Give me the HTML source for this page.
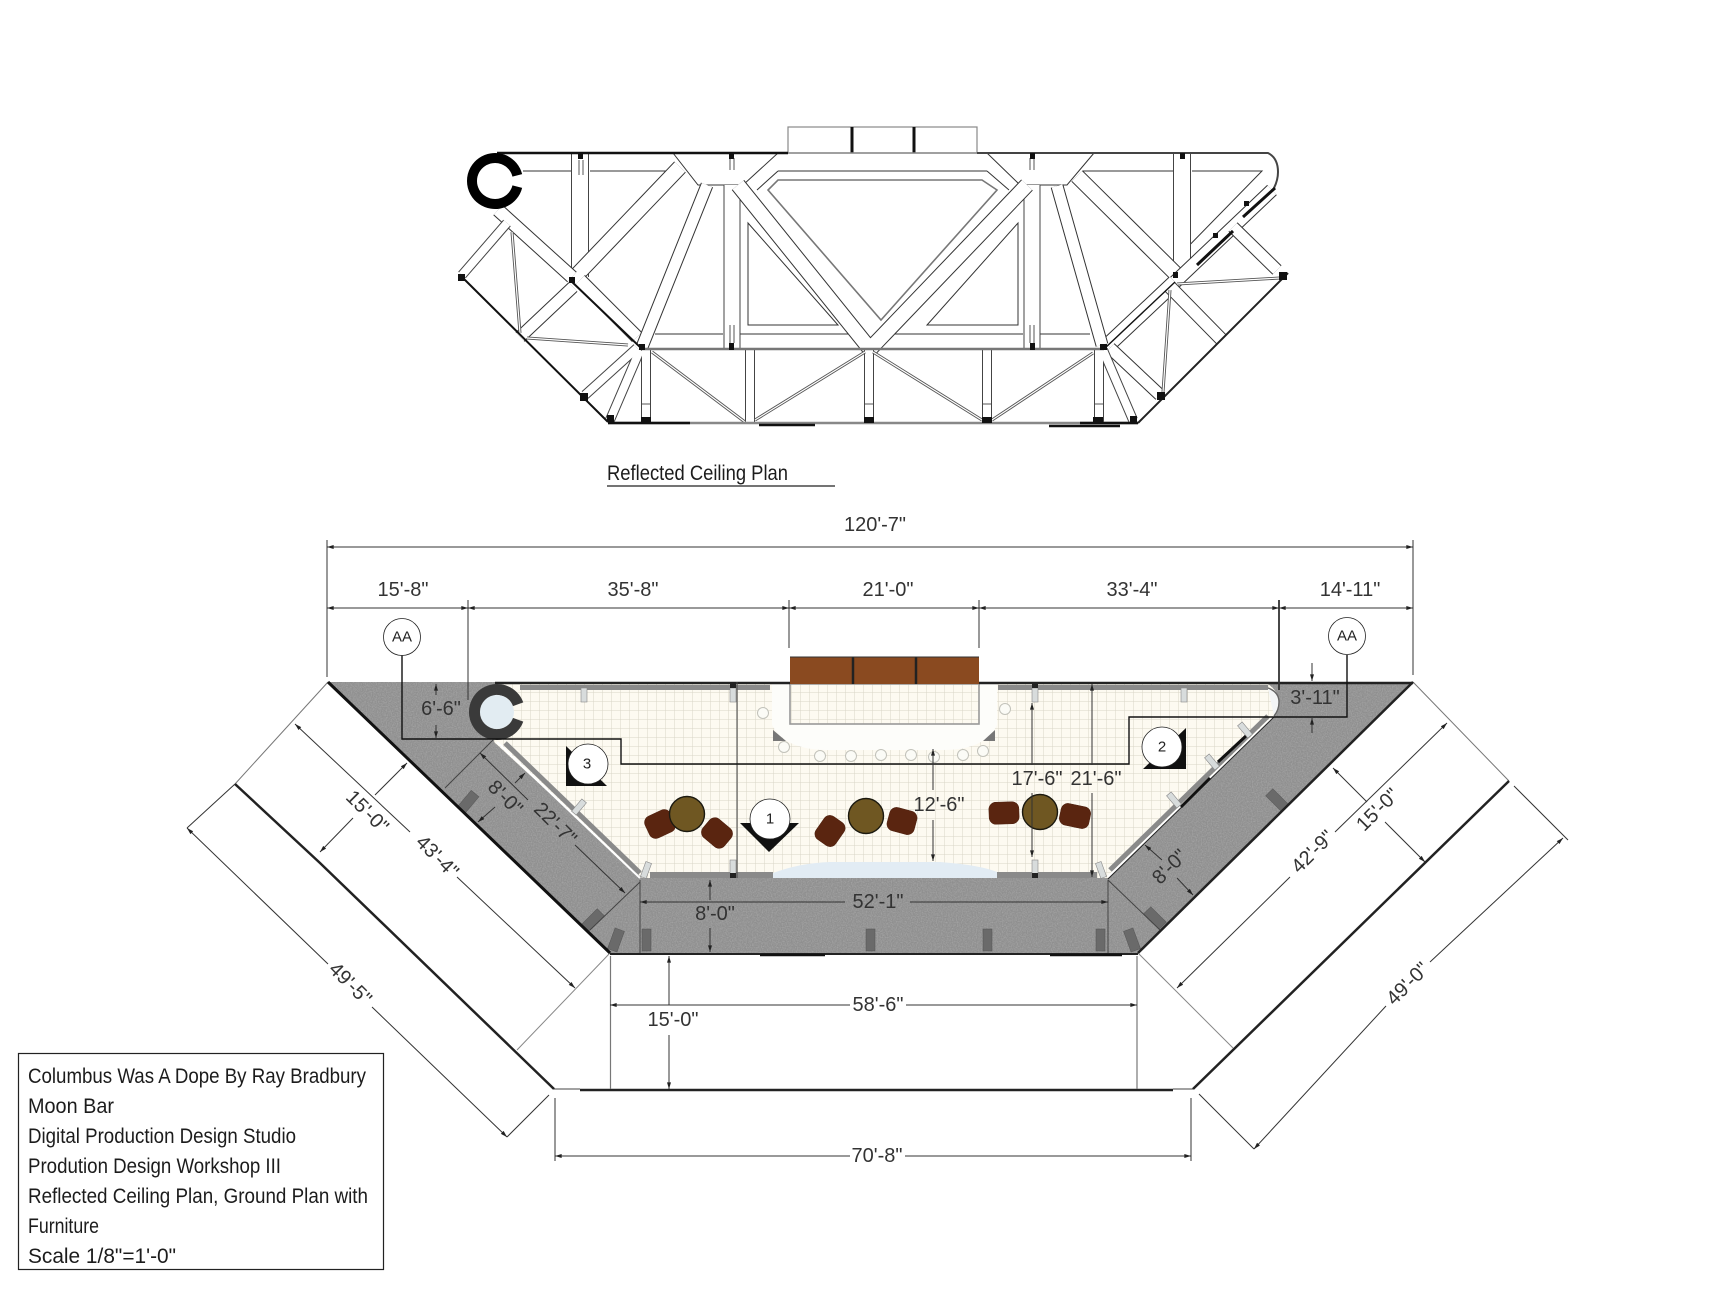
<!DOCTYPE html>
<html><head><meta charset="utf-8"><title>Moon Bar</title>
<style>
html,body{margin:0;padding:0;background:#fff}
svg{display:block}
.l{font:20px "Liberation Sans",sans-serif;fill:#333;text-anchor:middle;dominant-baseline:central}
.f{font:21px "Liberation Sans",sans-serif;fill:#1c1c1c}
.n{font:15px "Liberation Sans",sans-serif;fill:#222;text-anchor:middle;dominant-baseline:central}
.d{fill:none;stroke:#333;stroke-width:1}
.ds{marker-start:url(#a)}.de{marker-end:url(#a)}
.k{fill:#111}
.h{fill:none;stroke:#333;stroke-width:1}
</style></head><body>
<svg width="1728" height="1296" viewBox="0 0 1728 1296" xmlns="http://www.w3.org/2000/svg">
<defs>
<marker id="a" viewBox="0 0 10 6" refX="10" refY="3" markerUnits="userSpaceOnUse" markerWidth="8" markerHeight="4" orient="auto-start-reverse"><path d="M0 0L10 3L0 6Z" fill="#222"/></marker>
<pattern id="g" width="9" height="9" patternUnits="userSpaceOnUse"><rect width="9" height="9" fill="#fdfaf1"/><path d="M9 0V9M0 9H9" stroke="#d9d5c8" stroke-width="1"/></pattern>
<filter id="nz" x="0" y="0" width="100%" height="100%"><feTurbulence type="fractalNoise" baseFrequency=".8" numOctaves="2" seed="3"/><feColorMatrix values="0 0 0 0 .95 0 0 0 0 .95 0 0 0 0 .95 .8 0 0 0 -.28"/><feComposite in2="SourceGraphic" operator="in"/></filter>
<path id="w18" d="M580 153V277M1182 153V262"/>
<path id="w17" d="M732 185V349M1032 185V349"/>
<path id="w16" d="M572 280L680 167M738 185L870 349M1027 185L870 349M1077 176L1175 273M1108 345L1175 282"/>
<path id="w14" d="M498 210L572 277M580 280L637 337M1170 287L1222 340M1175 282L1272 190"/>
<path id="w13" d="M642 347L707 185M1057 186L1102 345M520 337L573 287M1233 227L1277 270M1110 348L1160 395"/>
<path id="w10" d="M646 349V423M750 349V423M869 349V423M987 349V423M1099 349V423M507 223L462 275M637 348L585 395M640 350L610 420M1103 350L1133 420"/>
<path id="w3" d="M652 352L745 422M755 420L865 352M873 352L982 420M992 420L1093 353M512 232L520 333M527 338L628 345M1170 290L1163 392M1177 284L1280 278"/>
</defs>
<rect width="1728" height="1296" fill="#fff"/>

<!-- Reflected ceiling plan -->
<g class="h">
<path d="M523 171H572M590 171H667M778 171H987M1083 171H1173M1192 171H1262L1175 260"/>
<path d="M655 334H723M740 334H860M880 334H1023M1040 334H1090"/>
<path d="M757 190L778 171M987 171L1009 190M748 223V325H838ZM1018 223V325H927Z"/>
<path d="M673 153L698 185H743L778 153M987 153L1020 185H1067L1094 153"/>
<path d="M778 180H982L997 190L881 320L768 190Z" stroke="#777" stroke-width="1.6"/>
</g>
<g fill="none">
<use href="#w18" stroke="#444" stroke-width="18"/><use href="#w18" stroke="#fff" stroke-width="16"/>
<use href="#w17" stroke="#444" stroke-width="17"/><use href="#w17" stroke="#fff" stroke-width="15"/>
<use href="#w16" stroke="#333" stroke-width="16"/><use href="#w16" stroke="#fff" stroke-width="14"/>
<use href="#w14" stroke="#333" stroke-width="14"/><use href="#w14" stroke="#fff" stroke-width="12"/>
<use href="#w13" stroke="#333" stroke-width="13"/><use href="#w13" stroke="#fff" stroke-width="11"/>
<use href="#w10" stroke="#444" stroke-width="10"/><use href="#w10" stroke="#fff" stroke-width="8"/>
<use href="#w3" stroke="#555" stroke-width="3"/><use href="#w3" stroke="#fff" stroke-width="1.2"/>
</g>
<path d="M579 160V175M583 160V175M730 158V170M734 158V170M1030 158V170M1034 158V170M730 325V343M734 325V343M1030 325V343M1034 325V343M642 404H650M865 404H873M1095 404H1103M983 404H991" stroke="#555" stroke-width="1" fill="none"/>
<rect x="788" y="127" width="189" height="26" fill="#fff" stroke="#888" stroke-width="1.2"/>
<path d="M852 127V153M914 127V153" stroke="#111" stroke-width="3"/>
<g fill="none">
<path d="M497 153H788" stroke="#111" stroke-width="2.5"/>
<path d="M788 153H977" stroke="#888" stroke-width="1.5"/>
<path d="M977 153H1268Q1278 158 1278 172Q1278 180 1274 188" stroke="#444" stroke-width="2"/>
<path d="M460 275L608 422" stroke="#111" stroke-width="2"/>
<path d="M570 280L642 349" stroke="#111" stroke-width="2"/>
<path d="M608 423H1138" stroke="#888" stroke-width="2.6"/>
<path d="M608 423H690M1080 423H1138" stroke="#111" stroke-width="2.5"/>
<path d="M642 349H1104" stroke="#777" stroke-width="2.4"/>
<path d="M1104 349L1175 282" stroke="#111" stroke-width="1.4"/>
<path d="M1138 423L1288 273" stroke="#222" stroke-width="2"/>
<path d="M1197 265L1233 231M1243 217L1275 188" stroke="#111" stroke-width="3"/>
<path d="M759 425H815M1049 426H1120" stroke="#111" stroke-width="2.5"/>
<path d="M517.3 175.4A23 23 0 1 0 517.3 186.6" stroke="#000" stroke-width="10"/>
</g>
<g class="k">
<rect x="578" y="153" width="5" height="6"/><rect x="729" y="153" width="5" height="6"/><rect x="1030" y="153" width="5" height="6"/><rect x="1180" y="153" width="5" height="6"/>
<rect x="729" y="343" width="5" height="7"/><rect x="1030" y="343" width="5" height="7"/>
<rect x="639" y="344" width="6" height="6"/><rect x="569" y="277" width="6" height="6"/><rect x="458" y="274" width="7" height="7"/>
<rect x="580" y="393" width="8" height="8"/><rect x="607" y="415" width="7" height="7"/>
<rect x="641" y="417" width="10" height="6"/><rect x="864" y="417" width="10" height="6"/><rect x="982" y="417" width="10" height="6"/><rect x="1093" y="417" width="10" height="6"/>
<rect x="1100" y="344" width="7" height="6"/><rect x="1173" y="272" width="5" height="6"/><rect x="1279" y="272" width="8" height="8"/>
<rect x="1157" y="392" width="8" height="8"/><rect x="1130" y="416" width="7" height="6"/><rect x="1244" y="201" width="5" height="5"/><rect x="1213" y="233" width="5" height="5"/>
</g>
<text class="f" x="607" y="480" textLength="181" lengthAdjust="spacingAndGlyphs">Reflected Ceiling Plan</text>
<path d="M607 486H835" stroke="#222" stroke-width="1.2"/>

<!-- Ground plan: thin outline -->
<path d="M328 682L235 784M1413 682L1509 781" stroke="#777" stroke-width="1" fill="none"/>
<path d="M610 953L517 1050M1138 953L1233 1048" stroke="#888" stroke-width="1" fill="none"/>
<path d="M554 1089H580M1173 1089H1193" stroke="#444" stroke-width="1" fill="none"/>
<path d="M235 784L320 863L554 1089" stroke="#222" stroke-width="2.5" fill="none"/>
<path d="M1509 781L1193 1089" stroke="#222" stroke-width="2.5" fill="none"/>
<path d="M580 1090H1173" stroke="#222" stroke-width="2.5" fill="none"/>

<path id="gp" d="M328 682H1413L1138 953H610Z" fill="#8f8f8f"/>
<path d="M328 682H1413L1138 953H610Z" fill="#fff" filter="url(#nz)" opacity=".5"/>
<path d="M495 684H1268Q1279 692 1279 702Q1279 710 1274 716L1108 878H642L494 742Z" fill="url(#g)"/>

<!-- Bar -->
<path d="M772 684V725Q785 750 828 750H943Q985 750 997 725V684Z" fill="#fdfdfa"/>
<rect x="790" y="684" width="189" height="40" fill="url(#g)" stroke="#999" stroke-width="1.6"/>
<rect x="790" y="657" width="189" height="27" fill="#8a4a20"/>
<path d="M853 657V684M916 657V684" stroke="#222" stroke-width="2.5"/>
<path d="M790 657H979" stroke="#333" stroke-width="1"/>
<g fill="#fbfbf6" stroke="#c2c2ba" stroke-width="1">
<circle cx="763" cy="713" r="5.5"/><circle cx="784" cy="747" r="5.5"/><circle cx="820" cy="756" r="5.5"/><circle cx="851" cy="756" r="5.5"/><circle cx="881" cy="755" r="5.5"/><circle cx="911" cy="755" r="5.5"/><circle cx="934" cy="757" r="5.5"/><circle cx="963" cy="755" r="5.5"/><circle cx="983" cy="751" r="5.5"/><circle cx="1005" cy="709" r="5.5"/>
</g>
<path d="M773 730L786 741L773 741ZM995 730L983 741L995 741Z" fill="#777"/>
<path d="M773 878V873Q800 863 830 862H940Q980 865 997 872V878Z" fill="#e2ecf4"/>

<!-- Inner walls -->
<g fill="#8a8a8a">
<rect x="520" y="685" width="250" height="5"/><rect x="998" y="685" width="270" height="5"/>
<rect x="650" y="872" width="123" height="6"/><rect x="997" y="872" width="100" height="6"/>
</g>
<path d="M505 743L640 873" stroke="#8a8a8a" stroke-width="5" fill="none"/>
<path d="M497 742L640 878" stroke="#fff" stroke-width="2" fill="none"/>
<path d="M1110 870L1268 716" stroke="#8a8a8a" stroke-width="5" fill="none"/>
<path d="M1108 877L1274 716" stroke="#fff" stroke-width="2" fill="none"/>
<path d="M1108 879L1274 717" stroke="#222" stroke-width="1" fill="none"/>
<path d="M1218 762L1247 735M1181 807L1210 778" stroke="#111" stroke-width="3" fill="none"/>
<path d="M1268 688Q1279 692 1279 702Q1279 710 1274 716" fill="#f3f5f6" stroke="#666" stroke-width="1.4"/>

<!-- Posts -->
<g fill="#d8dcdc" stroke="#888" stroke-width=".6">
<rect x="581" y="688" width="6" height="14"/><rect x="730" y="688" width="6" height="14"/><rect x="1032" y="688" width="6" height="14"/><rect x="1181" y="688" width="6" height="14"/>
<rect x="730" y="860" width="6" height="14"/><rect x="1032" y="860" width="6" height="14"/>
<rect x="-3" y="-8" width="6" height="16" transform="translate(579 807) rotate(40)"/>
<rect x="-3" y="-8" width="6" height="16" transform="translate(646 870) rotate(20)"/>
<rect x="-3" y="-8" width="6" height="16" transform="translate(1101 870) rotate(-20)"/>
<rect x="-3" y="-8" width="6" height="16" transform="translate(1174 800) rotate(-40)"/>
<rect x="-3" y="-8" width="6" height="16" transform="translate(1212 762) rotate(-40)"/>
<rect x="-3" y="-8" width="6" height="16" transform="translate(1245 730) rotate(-40)"/>
</g>
<g fill="#222"><rect x="730" y="683" width="6" height="5"/><rect x="1032" y="683" width="6" height="5"/><rect x="730" y="873" width="6" height="5"/><rect x="1032" y="873" width="6" height="5"/></g>
<g fill="#6a6a6a" stroke="#555" stroke-width=".5">
<rect x="-5" y="-11" width="10" height="22" transform="translate(468 802) rotate(40)"/>
<rect x="-5" y="-11" width="10" height="22" transform="translate(593 920) rotate(45)"/>
<rect x="-5" y="-11" width="10" height="22" transform="translate(616 940) rotate(20)"/>
<rect x="642" y="929" width="9" height="22"/>
<rect x="866" y="929" width="9" height="22"/><rect x="983" y="929" width="9" height="22"/><rect x="1096" y="929" width="9" height="22"/>
<rect x="-5" y="-11" width="10" height="22" transform="translate(1132 940) rotate(-20)"/>
<rect x="-5" y="-11" width="10" height="22" transform="translate(1155 918) rotate(-45)"/>
<rect x="-5" y="-11" width="10" height="22" transform="translate(1277 800) rotate(-45)"/>
</g>

<!-- Outer walls -->
<path d="M495 683H790M979 683H1413" stroke="#222" stroke-width="2.5" fill="none"/>
<path d="M328 682L610 953" stroke="#111" stroke-width="3" fill="none"/>
<path d="M1413 682L1138 953" stroke="#222" stroke-width="2.5" fill="none"/>
<path d="M610 954H1138" stroke="#222" stroke-width="2" fill="none"/>
<path d="M760 955H825M1050 955H1122" stroke="#111" stroke-width="2.5" fill="none"/>
<path d="M640 880V953M1108 880V953M737 682V878" stroke="#444" stroke-width="1" fill="none"/>
<path d="M493 740L445 788M640 882L590 930M1108 880L1160 930" stroke="#444" stroke-width="1" fill="none"/>

<!-- Column ring -->
<path d="M518.1 704.3A22.5 22.5 0 1 0 518.1 719.7" fill="none" stroke="#3a3a3a" stroke-width="11"/>
<circle cx="497" cy="712" r="17" fill="#e2ecf2"/>

<!-- Furniture -->
<g fill="#5a2510" stroke="#4a1d0c" stroke-width=".5">
<rect x="-14" y="-12" width="28" height="24" rx="7" transform="translate(660 824) rotate(-25)"/>
<rect x="-14" y="-12" width="28" height="24" rx="7" transform="translate(717 833) rotate(40)"/>
<rect x="-14" y="-12" width="28" height="24" rx="7" transform="translate(830 831) rotate(-55)"/>
<rect x="-14" y="-12" width="28" height="24" rx="7" transform="translate(902 821) rotate(15)"/>
<rect x="-15" y="-11" width="30" height="22" rx="7" transform="translate(1004 813) rotate(-2)"/>
<rect x="-15" y="-11" width="30" height="22" rx="7" transform="translate(1075 816) rotate(12)"/>
</g>
<g fill="#6f5722" stroke="#1c1a10" stroke-width="1.4">
<circle cx="687" cy="814" r="17.5"/><circle cx="866" cy="816" r="17.5"/><circle cx="1040" cy="812" r="17.5"/>
</g>

<!-- Section line -->
<path d="M402 655V739H621V764H1129V717H1347V655" fill="none" stroke="#111" stroke-width="1.4"/>

<!-- Camera markers -->
<g class="k"><path d="M566 746V786H607Z"/><path d="M740 823H799L769 852Z"/><path d="M1186 728V769H1143Z"/></g>
<g fill="#fff" stroke="#222" stroke-width=".8">
<circle cx="588" cy="764" r="20"/><circle cx="770" cy="819" r="20"/><circle cx="1162" cy="747" r="20"/>
<circle cx="402" cy="637" r="18.5"/><circle cx="1347" cy="636" r="18.5"/>
</g>
<text class="n" x="587" y="764">3</text><text class="n" x="770" y="819">1</text><text class="n" x="1162" y="747">2</text>
<text class="n" x="402" y="637">AA</text><text class="n" x="1347" y="636">AA</text>

<!-- Extension lines -->
<g stroke="#333" stroke-width="1" fill="none">
<path d="M327 540V677M468 600V700M789 600V648M979 600V648M1413 540V675"/>
<path d="M1279 600V690" stroke-width="1.8"/>
<path d="M555 1098V1161M1191 1098V1161"/>
<path d="M1199 1094L1254 1149M549 1095L507 1137M187 828L235 784M1514 786L1568 840"/>
</g>
<path d="M610.5 956V1089M1137 956V1089" stroke="#777" stroke-width="1.2" fill="none"/>

<!-- Dimension lines -->
<path class="d ds de" d="M327 547H1413"/>
<path class="d ds de" d="M327 608H468"/>
<path class="d ds de" d="M468 608H789"/>
<path class="d ds de" d="M789 608H979"/>
<path class="d ds de" d="M979 608H1279"/>
<path class="d ds de" d="M1279 608H1413"/>
<path class="d ds" d="M436 684V695"/><path class="d de" d="M436 725V738"/>
<path class="d de" d="M1312 663V681"/><path class="d ds" d="M1312 718V733"/>
<path class="d ds" d="M933 749V790"/><path class="d de" d="M933 820V861"/>
<path class="d ds" d="M1032 703V765"/><path class="d de" d="M1032 793V857"/>
<path class="d ds" d="M1092 684V765"/><path class="d de" d="M1092 793V877"/>
<path class="d ds" d="M710 880V900"/><path class="d de" d="M710 928V952"/>
<path class="d ds" d="M640 902H845"/><path class="d de" d="M910 902H1108"/>
<path class="d ds" d="M669 956V1005"/><path class="d de" d="M669 1035V1089"/>
<path class="d ds" d="M610 1005H850"/><path class="d de" d="M906 1005H1137"/>
<path class="d ds" d="M555 1156H850"/><path class="d de" d="M905 1156H1191"/>
<path class="d ds" d="M407 763L375 795"/><path class="d de" d="M353 818L320 852"/>
<path class="d ds" d="M295 724L410 832"/><path class="d de" d="M457 877L575 988"/>
<path class="d ds" d="M187 828L328 964"/><path class="d de" d="M372 1007L507 1137"/>
<path class="d ds" d="M480 753L528 800"/><path class="d de" d="M575 845L625 893"/>
<path class="d ds" d="M525 773L515 783"/><path class="d de" d="M495 807L478 822"/>
<path class="d ds" d="M1145 845L1162 860"/><path class="d de" d="M1177 878L1193 895"/>
<path class="d ds" d="M1177 988L1290 877"/><path class="d de" d="M1335 832L1447 723"/>
<path class="d ds" d="M1333 768L1367 802"/><path class="d de" d="M1385 822L1425 862"/>
<path class="d ds" d="M1254 1149L1386 1006"/><path class="d de" d="M1430 962L1563 838"/>

<!-- Dimension labels -->
<text class="l" x="875" y="525">120'-7"</text>
<text class="l" x="403" y="590">15'-8"</text>
<text class="l" x="633" y="590">35'-8"</text>
<text class="l" x="888" y="590">21'-0"</text>
<text class="l" x="1132" y="590">33'-4"</text>
<text class="l" x="1350" y="590">14'-11"</text>
<text class="l" x="441" y="709">6'-6"</text>
<text class="l" x="1315" y="698">3'-11"</text>
<text class="l" x="939" y="805">12'-6"</text>
<text class="l" x="1037" y="779">17'-6"</text>
<text class="l" x="1096" y="779">21'-6"</text>
<text class="l" x="715" y="914">8'-0"</text>
<text class="l" x="878" y="902">52'-1"</text>
<text class="l" x="673" y="1020">15'-0"</text>
<text class="l" x="878" y="1005">58'-6"</text>
<text class="l" x="877" y="1156">70'-8"</text>
<text class="l" x="367" y="812" transform="rotate(45 367 812)">15'-0"</text>
<text class="l" x="437" y="857" transform="rotate(45 437 857)">43'-4"</text>
<text class="l" x="350" y="984" transform="rotate(45 350 984)">49'-5"</text>
<text class="l" x="555" y="824" transform="rotate(45 555 824)">22'-7"</text>
<text class="l" x="505" y="798" transform="rotate(45 505 798)">8'-0"</text>
<text class="l" x="1170" y="867" transform="rotate(-45 1170 867)">8'-0"</text>
<text class="l" x="1313" y="852" transform="rotate(-45 1313 852)">42'-9"</text>
<text class="l" x="1378" y="810" transform="rotate(-45 1378 810)">15'-0"</text>
<text class="l" x="1408" y="984" transform="rotate(-45 1408 984)">49'-0"</text>

<!-- Title block -->
<rect x="18.5" y="1053.5" width="365" height="216" fill="#fff" stroke="#222" stroke-width="1.2"/>
<text class="f" x="28" y="1083" textLength="338" lengthAdjust="spacingAndGlyphs">Columbus Was A Dope By Ray Bradbury</text>
<text class="f" x="28" y="1113" textLength="86" lengthAdjust="spacingAndGlyphs">Moon Bar</text>
<text class="f" x="28" y="1143" textLength="268" lengthAdjust="spacingAndGlyphs">Digital Production Design Studio</text>
<text class="f" x="28" y="1173" textLength="253" lengthAdjust="spacingAndGlyphs">Prodution Design Workshop III</text>
<text class="f" x="28" y="1203" textLength="340" lengthAdjust="spacingAndGlyphs">Reflected Ceiling Plan, Ground Plan with</text>
<text class="f" x="28" y="1233" textLength="71" lengthAdjust="spacingAndGlyphs">Furniture</text>
<text class="f" x="28" y="1263" textLength="148" lengthAdjust="spacingAndGlyphs">Scale 1/8"=1'-0"</text>
</svg>
</body></html>
